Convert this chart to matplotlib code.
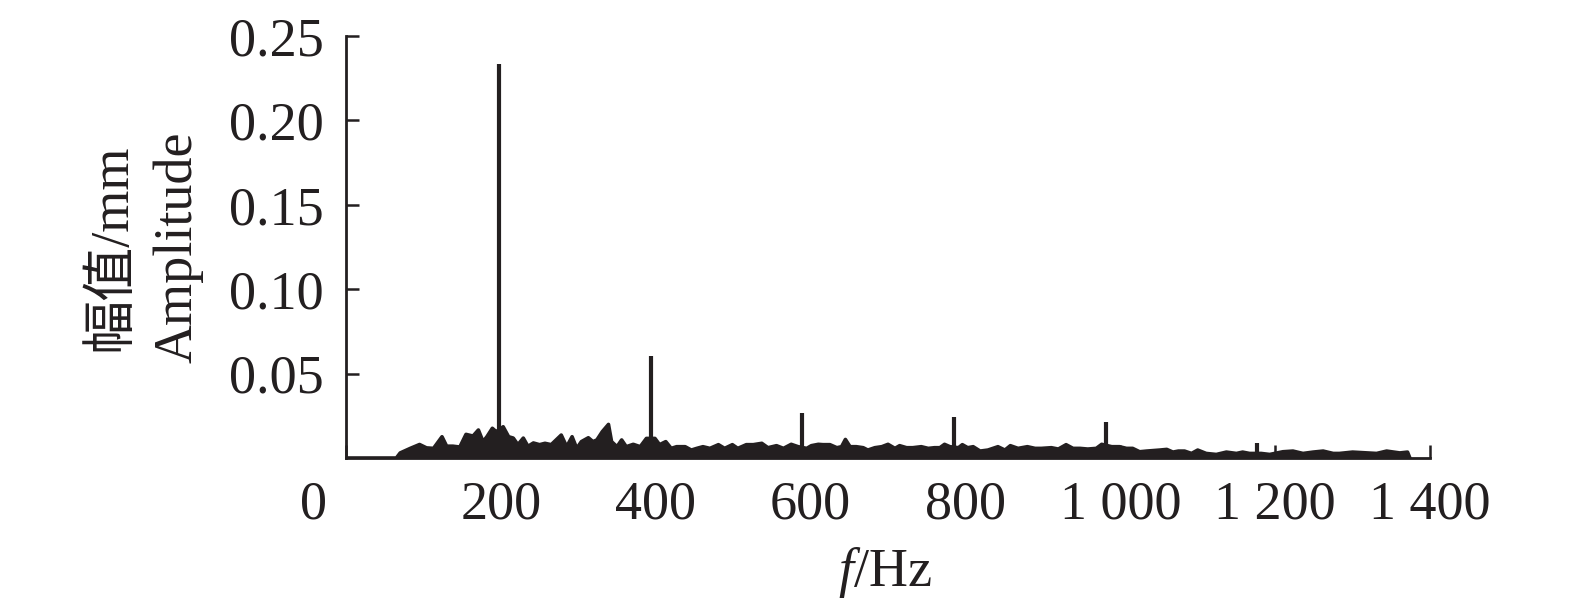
import numpy as np
import matplotlib
matplotlib.use("Agg")
from matplotlib import pyplot as plt
from matplotlib.transforms import ScaledTranslation

plt.rcParams['font.family'] = ['Liberation Serif', 'Noto Sans CJK SC']
plt.rcParams['mathtext.fontset'] = 'custom'
plt.rcParams['mathtext.rm'] = 'Liberation Serif'
plt.rcParams['mathtext.it'] = 'Liberation Serif:italic'

INK = '#231f20'

# Noise floor envelope (Hz, mm)
noise_freq = [0, 65, 70, 83, 95, 104, 113, 124, 130, 138, 147, 155, 164, 171, 177, 182, 189, 194,
              203, 210, 216, 222, 229, 235, 242, 250, 257, 265, 278, 285, 292, 298, 304, 313,
              319, 324, 331, 339, 343, 350, 356, 362, 371, 380, 388, 399, 405, 413, 420, 427,
              438, 446, 453, 461, 470, 481, 489, 499, 506, 517, 526, 537, 545, 556, 565, 575,
              584, 595, 601, 610, 616, 625, 634, 640, 645, 651, 659, 668, 674, 683, 692, 700,
              709, 715, 724, 732, 743, 752, 760, 767, 773, 780, 791, 796, 803, 810, 819, 829,
              842, 851, 858, 868, 880, 890, 898, 911, 920, 930, 939, 948, 958, 969, 976, 989,
              999, 1008, 1016, 1025, 1034, 1051, 1060, 1068, 1075, 1083, 1092, 1100, 1111, 1124,
              1137, 1150, 1158, 1167, 1182, 1193, 1210, 1223, 1236, 1249, 1262, 1275, 1283, 1300,
              1318, 1331, 1344, 1361, 1371, 1374]
noise_amp = [0, 0, .003, .0057, .008, .006, .0057, .0126, .007, .007, .0065, .014, .013, .0166, .0097, .0126, .0176, .0156,
             .0185, .0126, .0118, .0079, .0118, .0069, .0089, .0079, .0087, .0079, .0136, .0067, .0126, .0057, .0097, .012,
             .0097, .0107, .0156, .0199, .0097, .0067, .0107, .0067, .0081, .0067, .0116, .0116, .0079, .0097, .0057, .0067,
             .0067, .0047, .0057, .0067, .0057, .0079, .0057, .0079, .0057, .0079, .0079, .0087, .0061, .0073, .0057, .0081,
             .0067, .0057, .0073, .0081, .0079, .0079, .0061, .0067, .011, .0067, .0067, .0061, .0047, .0061, .0067, .0081,
             .0057, .0073, .0061, .0061, .0067, .0057, .0061, .0061, .0081, .0067, .0061, .0079, .0061, .0067, .0041, .0047,
             .0067, .0047, .0073, .0057, .0067, .0057, .0057, .0061, .0053, .0079, .0057, .0057, .0053, .0057, .0081, .0067,
             .0067, .0057, .0057, .0037, .0041, .0047, .0051, .0035, .0041, .0041, .0027, .0047, .0027, .0021,
             .0035, .0027, .0035, .0027, .0027, .0021, .0037, .0041, .0027, .0035, .0041, .0027, .0027, .0035,
             .003, .0027, .0041, .003, .0035, 0]

# Harmonic peaks
peak_freq = [198, 394, 589, 785, 981, 1176]
peak_amp = [0.2337, 0.0604, 0.0264, 0.0245, 0.0215, 0.0087]

xticks = [0, 200, 400, 600, 800, 1000, 1200, 1400]
xtick_labels = ['0', '200', '400', '600', '800', '1 000', '1 200', '1 400']
yticks = [0.05, 0.10, 0.15, 0.20, 0.25]
ytick_labels = ['0.05', '0.10', '0.15', '0.20', '0.25']

fig = plt.figure(figsize=(15.75, 6.1), dpi=100)
ax = fig.add_axes([346 / 1575, 1 - 458 / 610, 1084 / 1575, 422 / 610])

ax.fill_between(noise_freq, 0, noise_amp, color=INK, lw=0)
ax.plot(noise_freq, noise_amp, color=INK, lw=2.6)
ax.vlines(peak_freq, 0, peak_amp, color=INK, lw=3)

ax.set_xlim(0, 1400)
ax.set_ylim(0, 0.25)
for s in ['top', 'right']:
    ax.spines[s].set_visible(False)
for s in ['left', 'bottom']:
    ax.spines[s].set_linewidth(2)
    ax.spines[s].set_color(INK)

ax.set_xticks(xticks)
ax.set_xticklabels(xtick_labels)
ax.set_yticks(yticks)
ax.set_yticklabels(ytick_labels)
ax.tick_params(direction='in', length=9.5, width=1.8, color=INK, labelsize=39,
               labelcolor=INK)
ax.tick_params(axis='x', pad=16)
ax.tick_params(axis='y', pad=16)

# the "0" label sits further left in the original
lab0 = ax.get_xticklabels()[0]
lab0.set_transform(lab0.get_transform() + ScaledTranslation(-0.33, 0, fig.dpi_scale_trans))

fig.text(145 / 1575, 1 - 247 / 610, '幅值/mm\nAmplitude', rotation=90, ha='center', va='center',
         multialignment='center', fontsize=39, color=INK, linespacing=1.4)
fig.text(885 / 1575, 1 - 586 / 610, r'$f$/Hz', ha='center', va='baseline', fontsize=39, color=INK)

fig.savefig('out.png', dpi=100)
